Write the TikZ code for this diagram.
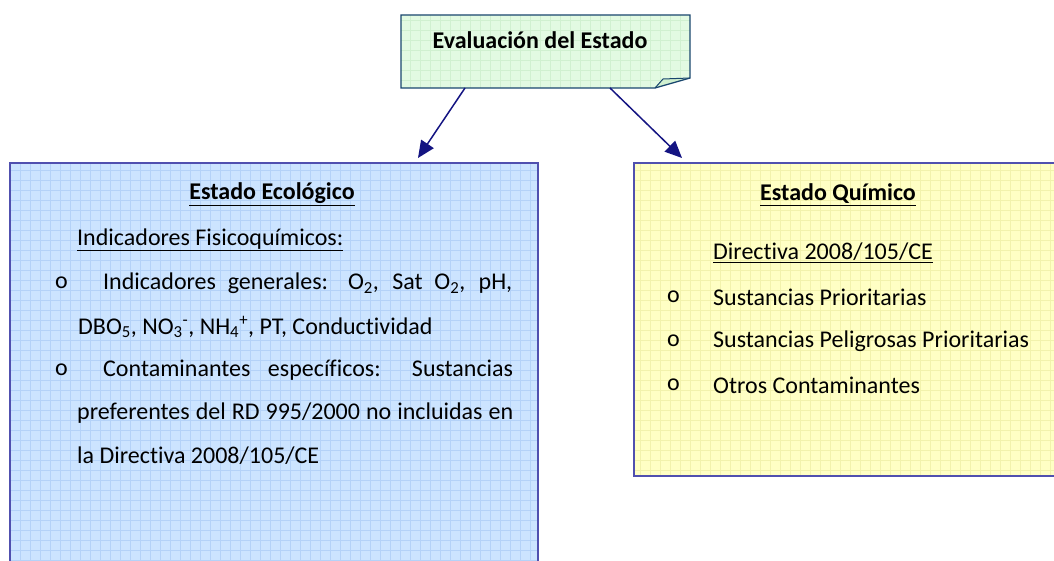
\documentclass[tikz,border=0pt]{standalone}
\usepackage{fontspec}
\setmainfont{Carlito}[Ligatures=NoCommon]
\usetikzlibrary{arrows.meta,positioning}
\definecolor{navy}{RGB}{20, 20, 130}
\definecolor{frame}{RGB}{80, 80, 175}
\definecolor{evalframe}{RGB}{25, 70, 110}
\definecolor{evalfill}{RGB}{226, 250, 226}
\definecolor{evalgrid}{RGB}{208, 240, 208}
\definecolor{ecofill}{RGB}{204, 228, 255}
\definecolor{ecogrid}{RGB}{180, 210, 248}
\definecolor{quimfill}{RGB}{255, 255, 196}
\definecolor{quimgrid}{RGB}{242, 242, 172}

\tikzset{
  txt/.style={anchor=west, inner sep=0pt, font=\fontsize{24}{28}\selectfont},
  title/.style={inner sep=0pt, font=\fontsize{24}{28}\selectfont\bfseries},
  gridline/.style={line width=0.5pt, step=10pt},
  link/.style={navy, line width=1.5pt, -{Triangle[length=17pt, width=15pt]}}
}

\begin{document}
\begin{tikzpicture}[x=1pt, y=-1pt]
        \useasboundingbox (0,0) rectangle (1054,561);

        % Evaluation box with folded corner
        \fill[evalfill] (401,15) -- (690,15) -- (690,78) -- (655,88) -- (401,88) -- cycle;
        \begin{scope}
            \clip (401,15) -- (690,15) -- (690,78) -- (655,88) -- (401,88) -- cycle;
            \draw[gridline, evalgrid] (401,15) grid (690,88);
        \end{scope}
        \fill[evalgrid] (655,88) -- (663,79) -- (690,78) -- cycle;
        \draw[evalframe, line width=1.3pt] (401,15) -- (690,15) -- (690,78) -- (655,88) -- (401,88) -- cycle;
        \draw[evalframe, line width=1pt] (655,88) -- (663,79) -- (690,78);
        \node[title] (eval) at (540,40) {Evaluación del Estado};

        % Ecological state box
        \fill[ecofill] (10,163) rectangle (538,570);
        \draw[gridline, ecogrid] (10,163) grid (538,570);
        \draw[frame, line width=1.3pt] (10,570) -- (10,163) -- (538,163) -- (538,570);

        % Chemical state box
        \fill[quimfill] (634,163) rectangle (1060,476);
        \draw[gridline, quimgrid] (634,163) grid (1060,476);
        \draw[frame, line width=1.3pt] (1060,476) -- (634,476) -- (634,163) -- (1060,163);

        % Arrows
        \coordinate (ecotop) at (418,158);
        \coordinate (quimtop) at (682,158);
        \draw[link] ([xshift=-75pt]eval.south |- 0,88) -- (ecotop);
        \draw[link] ([xshift=70pt]eval.south |- 0,88) -- (quimtop);

        % Ecological state text
        \node[title] (eco) at (272,194) {\underline{Estado Ecológico}};
        \node[txt] (fq) at (77,240) {\underline{Indicadores Fisicoquímicos:}};
        \node[txt] (b1) at (55,283) {o};
        \node[txt] (l1) at (103,283) {\makebox[409pt][s]{Indicadores generales: O\textsubscript{2}, Sat O\textsubscript{2}, pH,}};
        \node[txt] (l2) at (78,327) {DBO\textsubscript{5}, NO\textsubscript{3}\textsuperscript{-}, NH\textsubscript{4}\textsuperscript{+}, PT, Conductividad};
        \node[txt] (b2) at (55,370) {o};
        \node[txt] (l3) at (103,370) {\makebox[410pt][s]{Contaminantes específicos: Sustancias}};
        \node[txt] (l4) at (77,413) {\makebox[436pt][s]{preferentes del RD 995/2000 no incluidas en}};
        \node[txt] (l5) at (77,456) {la Directiva 2008/105/CE};

        % Chemical state text
        \node[title] (quim) at (838,195) {\underline{Estado Químico}};
        \node[txt] (dir) at (713,253) {\underline{Directiva 2008/105/CE}};
        \foreach \y/\name/\item in {297/q1/Sustancias Prioritarias,
                                    341/q2/Sustancias Peligrosas Prioritarias,
                                    385/q3/Otros Contaminantes} {
            \node[txt] (b\name) at (667,\y) {o};
            \node[txt] (\name) at (713,\y) {\item};
        }
    \end{tikzpicture}
\end{document}
